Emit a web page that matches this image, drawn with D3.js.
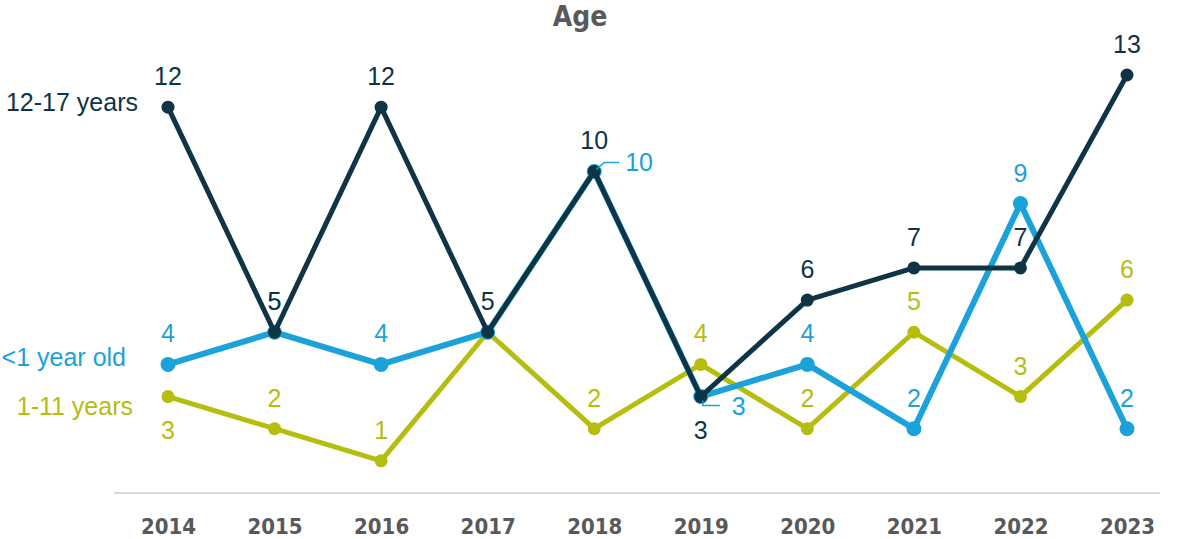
<!DOCTYPE html>
<html>
<head>
<meta charset="utf-8">
<script src="https://cdn.jsdelivr.net/npm/d3@7"></script>
<style>
  body { margin: 0; background: #fff; }
  svg { display: block; }
</style>
</head>
<body>
<svg id="chart" width="1177" height="539"></svg>
<script>
var years = ['2014', '2015', '2016', '2017', '2018', '2019', '2020', '2021', '2022', '2023'];
var infant = [4, 5, 4, 5, 10, 3, 4, 2, 9, 2];
var child = [3, 2, 1, 5, 2, 4, 2, 5, 3, 6];
var teen = [12, 5, 12, 5, 10, 3, 6, 7, 7, 13];
var seriesNames = ['<1 year old', '1-11 years', '12-17 years'];

// label placement per point: 'a' above, 'b' below, 'r' right with leader
var infantPos = ['a', 'a', 'a', 'n', 'r', 'r', 'a', 'a', 'a', 'a'];
var childPos = ['b', 'a', 'a', 'n', 'a', 'a', 'a', 'a', 'a', 'a'];
var teenPos = ['a', 'a', 'a', 'a', 'a', 'b', 'a', 'a', 'a', 'a'];

var svg = d3.select('#chart');
var labelFont = '"Liberation Sans", Arial, sans-serif';
var boldFont = '"Liberation Sans Narrow", "DejaVu Sans Condensed", "Roboto", sans-serif';

var x = d3.scalePoint().domain(years).range([168, 1127]);
var y = d3.scaleLinear().domain([0, 13]).range([493, 75]);

var series = [
  {name: seriesNames[1], values: child, pos: childPos, color: '#b5bd0e', w: 5, r: 6.5, lx: 133, ly: 415},
  {name: seriesNames[0], values: infant, pos: infantPos, color: '#1ba2da', w: 6, r: 7.5, lx: 126, ly: 366},
  {name: seriesNames[2], values: teen, pos: teenPos, color: '#0e3446', w: 5, r: 6.5, lx: 138, ly: 111}
];

svg.append('text')
  .attr('x', 580).attr('y', 26)
  .attr('text-anchor', 'middle')
  .style('font', 'bold 28px ' + boldFont)
  .style('fill', '#595959')
  .text('Age');

var xAxis = d3.axisBottom(x).tickSize(0).tickPadding(25);
var gx = svg.append('g')
  .attr('transform', 'translate(0,493)')
  .call(xAxis);
gx.select('.domain')
  .attr('d', 'M114,0H1160')
  .attr('stroke', '#d9d9d9')
  .attr('stroke-width', 2);
gx.selectAll('.tick text')
  .style('font', 'bold 22px ' + boldFont)
  .style('fill', '#595959');

var line = d3.line()
  .x(function(d, i) { return x(years[i]); })
  .y(function(d) { return y(d); });

series.forEach(function(s) {
  var g = svg.append('g');
  g.append('path')
    .datum(s.values)
    .attr('d', line)
    .attr('fill', 'none')
    .attr('stroke', s.color)
    .attr('stroke-width', s.w)
    .attr('stroke-linejoin', 'round');
  g.selectAll('circle')
    .data(s.values)
    .enter().append('circle')
    .attr('cx', function(d, i) { return x(years[i]); })
    .attr('cy', function(d) { return y(d); })
    .attr('r', s.r)
    .attr('fill', s.color);

  svg.append('text')
    .attr('x', s.lx).attr('y', s.ly)
    .attr('text-anchor', 'end')
    .style('font', '25px ' + labelFont)
    .style('fill', s.color)
    .text(s.name);
});

// value labels on top
series.forEach(function(s) {
  s.values.forEach(function(v, i) {
    var p = s.pos[i];
    if (p === 'n') return;
    var px = x(years[i]), py = y(v);
    var t = svg.append('text')
      .style('font', '25px ' + labelFont)
      .style('fill', s.color)
      .text(v);
    if (p === 'a') {
      t.attr('x', px).attr('y', py - 22).attr('text-anchor', 'middle');
    } else if (p === 'b') {
      t.attr('x', px).attr('y', py + 42).attr('text-anchor', 'middle');
    } else if (p === 'r') {
      var up = v > 5;
      var ex = px + 25, ey = up ? py - 9 : py + 9;
      svg.append('path')
        .attr('d', up
          ? 'M' + (px + 2) + ',' + (py - 2) + 'L' + (px + 10) + ',' + ey + 'H' + ex
          : 'M' + (px + 2) + ',' + (py + 4) + 'V' + ey + 'H' + (ex - 6))
        .attr('fill', 'none')
        .attr('stroke', s.color)
        .attr('stroke-width', 1.5);
      t.attr('x', ex + 6).attr('y', ey + 9).attr('text-anchor', 'start');
    }
  });
});
</script>
</body>
</html>
